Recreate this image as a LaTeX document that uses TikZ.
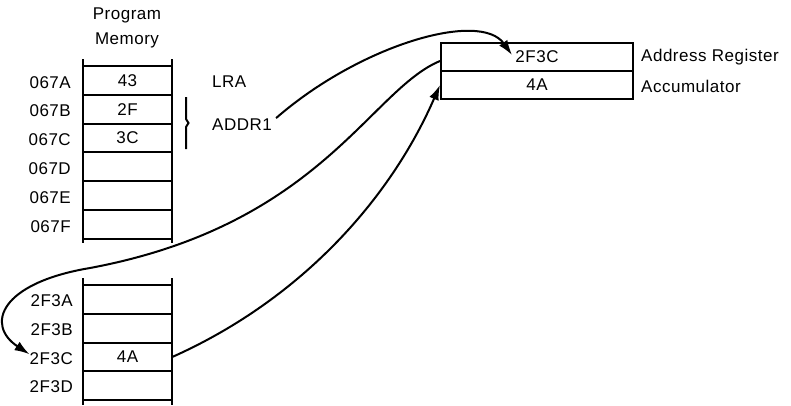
\documentclass[tikz,border=0pt]{standalone}
\usepackage{fontspec}
\setmainfont{Liberation Sans}[LetterSpace=3]
\usetikzlibrary{arrows.meta}
\begin{document}
\begin{tikzpicture}[x=1pt,y=-1pt,
  txt/.style={font=\fontsize{17}{20}\selectfont, inner sep=0pt},
  cell/.style={txt, minimum width=89pt, minimum height=28.8pt},
  grid/.style={line width=2pt},
  rail/.style={line width=2.6pt},
  link/.style={line width=2pt},
  arr/.style={link, -{Latex[length=15pt,width=10pt]}},
  regcell/.style={txt, draw, line width=2pt, minimum width=192pt, minimum height=28pt}]
\useasboundingbox (0,0) rectangle (791,405);

% title
\node[txt, align=center, font=\fontsize{17}{25}\selectfont] (title) at (127,27.5) {Program\\Memory};

% top memory
\draw[rail] (83,59) -- (83,243);
\draw[rail] (172,59) -- (172,243);
\foreach \y in {66,94.8,123.6,152.4,181.2,210,238.8}
  \draw[grid] (83,\y) -- (172,\y);
\node[cell] (m0) at (127.5,80.4) {43};
\node[cell] (m1) at (127.5,109.2) {2F};
\node[cell] (m2) at (127.5,138) {3C};
\node[cell] (m3) at (127.5,166.8) {};
\node[cell] (m4) at (127.5,195.6) {};
\node[cell] (m5) at (127.5,224.4) {};
\node[txt, anchor=base east] (a0) at (71,88) {067A};
\node[txt, anchor=base east] (a1) at (71,116.8) {067B};
\node[txt, anchor=base east] (a2) at (71,145.6) {067C};
\node[txt, anchor=base east] (a3) at (71,174.4) {067D};
\node[txt, anchor=base east] (a4) at (71,203.2) {067E};
\node[txt, anchor=base east] (a5) at (71,232) {067F};

% LRA / ADDR1
\node[txt, anchor=base west] (lra) at (212,87.5) {LRA};
\node[txt, anchor=base west] (addr) at (212,130) {ADDR1};
\draw[line width=2pt] (186,97) -- (186,119) -- (188.5,123) -- (186,127) -- (186,149);

% bottom memory
\draw[rail] (83,278) -- (83,405);
\draw[rail] (172,278) -- (172,405);
\foreach \y in {285,313.8,342.6,371.4,400.2}
  \draw[grid] (83,\y) -- (172,\y);
\node[cell] (c0) at (127.5,299.4) {};
\node[cell] (c1) at (127.5,328.2) {};
\node[cell] (c2) at (127.5,357) {4A};
\node[cell] (c3) at (127.5,385.8) {};
\node[txt, anchor=base east] (l0) at (73,306.5) {2F3A};
\node[txt, anchor=base east] (l1) at (73,335.3) {2F3B};
\node[txt, anchor=base east] (l2) at (73,364.1) {2F3C};
\node[txt, anchor=base east] (l3) at (73,392.9) {2F3D};

% registers
\node[regcell] (reg1) at (537,57) {2F3C};
\node[regcell] (reg2) at (537,85) {4A};
\node[txt, anchor=west] (rn1) at (641,57) {Address Register};
\node[txt, anchor=west] (rn2) at (641,86) {Accumulator};

% connectors
\draw[arr] ([xshift=4pt]addr.north east) .. controls (360,45) and (480,10) .. ([shift={(-25pt,2pt)}]reg1.center);
\draw[arr] ([yshift=-4pt]reg1.west) .. controls (370,90) and (320,225) .. (90,268)
  .. controls (0,283) and (-15,325) .. ([yshift=4pt]l2.west);
\draw[arr] (c2.east) .. controls (300,300) and (390,200) .. (reg2.west);
\end{tikzpicture}
\end{document}
